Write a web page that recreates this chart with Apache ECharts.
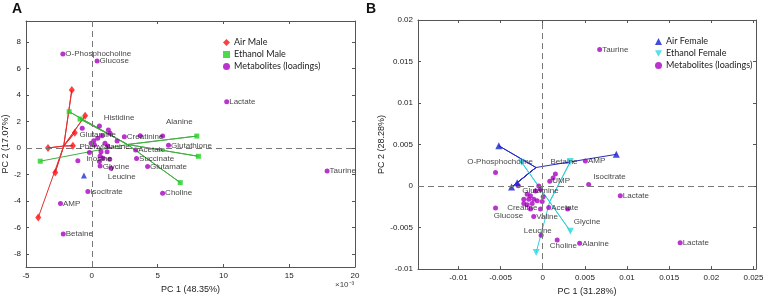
<!DOCTYPE html>
<html>
<head>
<meta charset="utf-8">
<script src="https://cdn.jsdelivr.net/npm/echarts@6.0.0/dist/echarts.min.js"></script>
<style>
  html, body { margin: 0; padding: 0; background: #fff; }
  #chart { width: 767px; height: 301px; }
</style>
</head>
<body>
<div id="chart"></div>
<script>
// ---- panel A (x in units of 1e-3) ----
const aTicksX = [-5, 0, 5, 10, 15, 20];
const aTicksY = [-8, -6, -4, -2, 0, 2, 4, 6, 8];
// labelled metabolite loadings: [x, y, name]
const aMetLabelled = [
  [-2.2, 7.1, 'O-Phosphocholine'], [0.4, 6.57, 'Glucose'], [10.25, 3.5, 'Lactate'],
  [2.47, 0.85, 'Creatinine'], [5.83, 0.2, 'Glutathione'], [3.33, -0.15, 'Acetate'],
  [3.4, -0.8, 'Succinate'], [4.24, -1.4, 'Glutamate'], [5.38, -3.42, 'Choline'],
  [-0.3, -3.3, 'Isocitrate'], [-2.38, -4.2, 'AMP'], [-2.17, -6.5, 'Betaine'],
  [17.88, -1.74, 'Taurine']
];
const aMetOther = [
  [-0.73, 1.49], [0.58, 1.66], [1.26, 1.36], [1.39, 1.11], [-0.05, 0.35], [0.15, 0.55],
  [0.45, 0.73], [0.78, 0.93], [0.2, 0.23], [1.0, 0.35], [1.21, 0.15], [1.92, 0.53],
  [3.68, 0.93], [5.38, 0.9], [0.7, -0.28], [1.16, -0.28], [-0.18, -0.35], [1.36, -0.85],
  [0.58, -1.03], [0.63, -1.36], [1.46, -1.53], [-1.06, -0.96], [0.86, -0.78], [0.63, -0.6]
];
// text annotations placed in data coordinates
const aTextNotes = [
  [0.91, 2.29, 'Histidine'], [5.63, 1.98, 'Alanine'], [-0.94, 0.98, 'Glutamine'],
  [-0.94, 0.1, 'Phenylalanine'], [-0.43, -0.85, 'Inosine'], [0.83, -1.41, 'Glycine'],
  [1.21, -2.17, 'Leucine']
];
const airMale = [[-1.52, 4.38], [-0.51, 2.44], [-1.29, 1.15], [-1.44, 0.17], [-3.33, 0.0], [-2.78, -1.85], [-4.07, -5.26]];
const ethanolMale = [[-1.72, 2.74], [-0.89, 2.19], [7.98, 0.9], [8.1, -0.63], [6.72, -2.62], [-3.92, -1.0]];
const aExtra = [[-0.6, -2.09]];

// ---- panel B ----
const bTicksX = [-0.01, -0.005, 0, 0.005, 0.01, 0.015, 0.02, 0.025];
const bTicksY = [-0.01, -0.005, 0, 0.005, 0.01, 0.015, 0.02];
const bMetLabelled = [
  [0.00506, 0.00303, 'AMP'], [0.00071, -0.00257, 'Acetate'], [-0.00107, -0.00367, 'Valine'],
  [0.00438, -0.0069, 'Alanine'], [0.0092, -0.00118, 'Lactate'], [0.0163, -0.00683, 'Lactate'],
  [0.00675, 0.01645, 'Taurine'], [0.00083, 0.00059, 'UMP']
];
const bMetOther = [
  [-0.0056, 0.00163], [-0.0029, 0.00005], [-0.00047, 0], [-0.00027, -0.0004], [-0.00086, -0.0006],
  [-0.00146, -0.00118], [-0.00185, -0.00099], [-0.00225, -0.00158], [-0.00166, -0.00158],
  [-0.00107, -0.00158], [-0.00225, -0.0021], [-0.00185, -0.00225], [-0.00126, -0.0021],
  [-0.00066, -0.00178], [0.00005, -0.0013], [-0.00007, -0.00186], [-0.00146, -0.00277],
  [-0.00027, -0.00277], [0.00296, -0.00277], [0.0015, 0.00146], [0.00123, 0.00098],
  [-0.00019, -0.00592], [0.00171, -0.0065], [-0.0056, -0.00265], [0.00545, 0.00019]
];
const bTextNotes = [
  [-0.00896, 0.00288, 'O-Phosphocholine'], [0.00091, 0.00296, 'Betaine'], [0.006, 0.0011, 'Isocitrate'],
  [-0.00244, -0.00052, 'Glutamine'], [-0.00422, -0.00265, 'Creatine'], [-0.0058, -0.00355, 'Glucose'],
  [0.00367, -0.00426, 'Glycine'], [-0.00225, -0.00541, 'Leucine'], [0.00083, -0.00722, 'Choline']
];
const airFemale = [[-0.00521, 0.00485], [-0.0037, -0.00012], [-0.00303, 0.00039], [0.00873, 0.00382]];
const ethanolFemale = [[-0.00252, 0.00288], [0.00328, 0.00296], [0.00328, -0.00544], [-0.00078, -0.008]];

const PURPLE = '#a800c0';
const FONT = 'Liberation Sans';
const downTri = 'path://M0,0 L10,0 L5,9 Z';

// group centre, each member is joined to it (spider plot)
function spider(pts) {
  let cx = 0, cy = 0;
  pts.forEach(p => { cx += p[0]; cy += p[1]; });
  cx /= pts.length; cy /= pts.length;
  const out = [];
  pts.forEach(p => { out.push([cx, cy]); out.push(p); });
  return out;
}

function axisPair(gridIndex, min, max, ticks, isX) {
  const base = {
    type: 'value', gridIndex: gridIndex, min: min, max: max,
    splitLine: { show: false },
    axisLine: { show: true, onZero: false, lineStyle: { color: '#555', width: 1 } },
    axisTick: { show: true, inside: true, length: 3, customValues: ticks, lineStyle: { color: '#555' } }
  };
  const main = Object.assign({}, base, {
    position: isX ? 'bottom' : 'left',
    axisLabel: { customValues: ticks, fontSize: 8, color: '#222', fontFamily: FONT, margin: 5 }
  });
  const twin = Object.assign({}, base, {
    position: isX ? 'top' : 'right',
    axisLabel: { show: false }
  });
  return [main, twin];
}

const zeroLines = {
  silent: true, symbol: 'none', label: { show: false },
  lineStyle: { color: '#777', type: [6, 4], width: 1 },
  data: [{ xAxis: 0 }, { yAxis: 0 }]
};

function labelled(data, gi) {
  return {
    type: 'scatter', name: 'Metabolites (loadings)', xAxisIndex: gi * 2, yAxisIndex: gi * 2,
    symbol: 'circle', symbolSize: 5, itemStyle: { color: PURPLE }, z: 4,
    label: { show: true, position: 'right', distance: 0, formatter: p => p.data[2], fontSize: 8, color: '#111', fontFamily: FONT },
    data: data
  };
}
function notes(data, gi) {
  return {
    type: 'scatter', name: 'notes', xAxisIndex: gi * 2, yAxisIndex: gi * 2,
    symbolSize: 0, silent: true, z: 5,
    label: { show: true, position: 'right', distance: 0, formatter: p => p.data[2], fontSize: 8, color: '#111', fontFamily: FONT },
    data: data
  };
}
function plain(name, data, gi, symbol, size, color, z) {
  return {
    type: 'scatter', name: name, xAxisIndex: gi * 2, yAxisIndex: gi * 2,
    symbol: symbol, symbolSize: size, itemStyle: { color: color }, z: z || 3, data: data
  };
}
function web(data, gi, color) {
  return {
    type: 'line', name: 'web', xAxisIndex: gi * 2, yAxisIndex: gi * 2, symbol: 'none',
    lineStyle: { color: color, width: 1 }, silent: true, z: 2, data: spider(data)
  };
}

const ax = axisPair(0, -5, 20, aTicksX, true).concat(axisPair(1, -0.0148, 0.0253, bTicksX, true));
const ay = axisPair(0, -9, 9.6, aTicksY, false).concat(axisPair(1, -0.01, 0.02, bTicksY, false));
const nameStyle = { fontSize: 9, color: '#222', fontFamily: FONT };
Object.assign(ax[0], { name: 'PC 1 (48.35%)', nameLocation: 'middle', nameGap: 15, nameTextStyle: nameStyle });
Object.assign(ax[2], { name: 'PC 1 (31.28%)', nameLocation: 'middle', nameGap: 16, nameTextStyle: nameStyle });
Object.assign(ay[0], { name: 'PC 2 (17.07%)', nameLocation: 'middle', nameGap: 13, nameTextStyle: nameStyle });
Object.assign(ay[2], { name: 'PC 2 (28.28%)', nameLocation: 'middle', nameGap: 29, nameTextStyle: nameStyle });

const metA = labelled(aMetLabelled, 0);
metA.markLine = zeroLines;
const metB = labelled(bMetLabelled, 1);
metB.markLine = zeroLines;

const legendText = { fontSize: 9, color: '#222', fontFamily: 'Lato', padding: [0, 0, 0, -1] };

const chart = echarts.init(document.getElementById('chart'), null, { renderer: 'canvas' });
chart.setOption({
  backgroundColor: '#fff',
  animation: false,
  grid: [
    { left: 25, top: 21, width: 330, height: 246 },
    { left: 418, top: 20, width: 338, height: 253 }
  ],
  xAxis: ax,
  yAxis: ay,
  legend: [
    {
      data: ['Air Male', 'Ethanol Male', 'Metabolites (loadings)'],
      orient: 'vertical', left: 218, top: 33, itemGap: 3, itemWidth: 7, itemHeight: 7,
      textStyle: legendText
    },
    {
      data: ['Air Female', 'Ethanol Female', 'Metabolites (loadings)'],
      orient: 'vertical', left: 650, top: 32, itemGap: 3, itemWidth: 7, itemHeight: 7,
      textStyle: legendText
    }
  ],
  graphic: [
    { type: 'text', left: 12, top: 2, style: { text: 'A', font: 'bold 14px Liberation Sans', fill: '#111' } },
    { type: 'text', left: 366, top: 2, style: { text: 'B', font: 'bold 14px Liberation Sans', fill: '#111' } },
    { type: 'text', left: 335, top: 281, style: { text: '×10⁻³', font: '8px Liberation Sans', fill: '#444' } }
  ],
  series: [
    web(airMale, 0, '#e03030'),
    web(ethanolMale, 0, '#40b040'),
    plain('Air Male', airMale, 0, 'diamond', [6, 8], '#ff1010', 4),
    plain('Ethanol Male', ethanolMale, 0, 'rect', 5, '#20d020', 4),
    metA,
    plain('Metabolites (loadings)', aMetOther, 0, 'circle', 5, PURPLE),
    plain('extra', aExtra, 0, 'triangle', 6, '#2030e0'),
    notes(aTextNotes, 0),

    web(airFemale, 1, '#2828c8'),
    web(ethanolFemale, 1, '#30d0d8'),
    plain('Air Female', airFemale, 1, 'triangle', 7, '#1420d0', 4),
    plain('Ethanol Female', ethanolFemale, 1, downTri, 7, '#30d8e0', 4),
    metB,
    plain('Metabolites (loadings)', bMetOther, 1, 'circle', 5, PURPLE),
    notes(bTextNotes, 1)
  ]
});
</script>
</body>
</html>
